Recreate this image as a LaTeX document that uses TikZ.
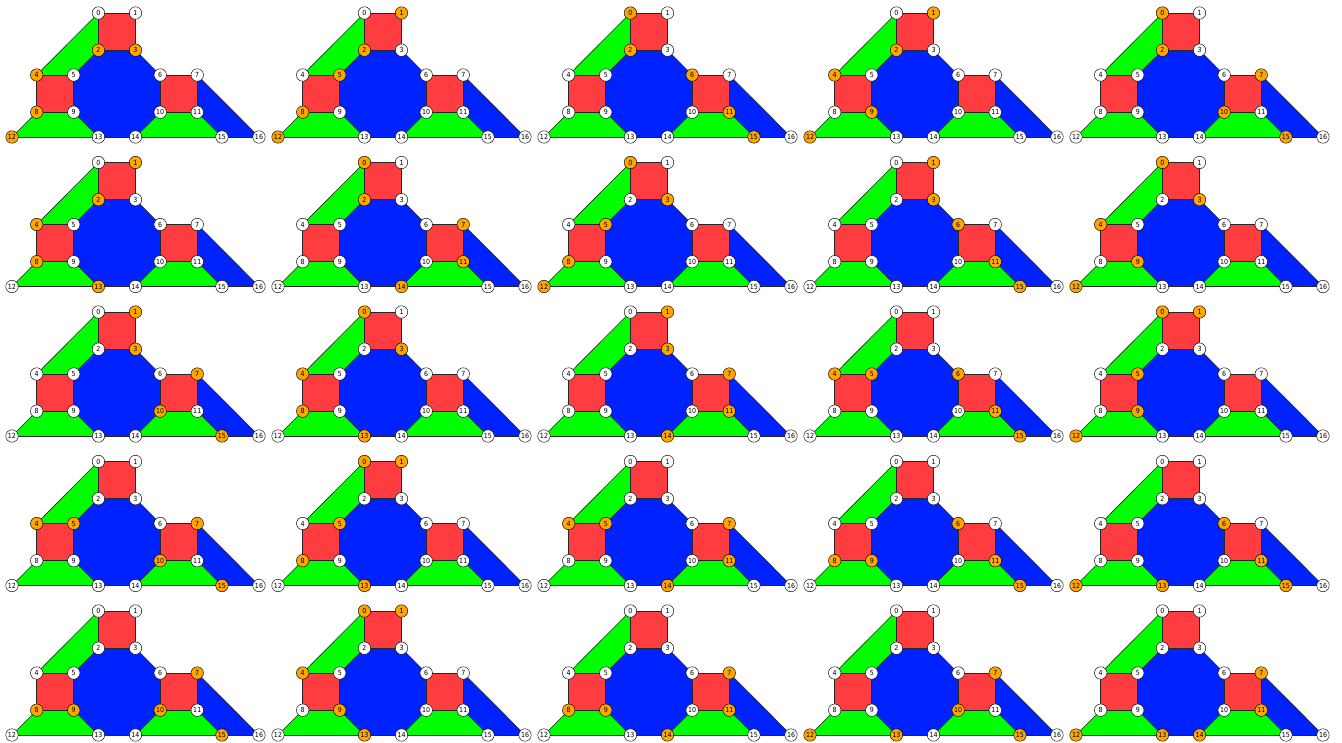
\documentclass[tikz,border=0pt]{standalone}
\usepackage{fontspec}
\setmainfont{DejaVu Sans}
\newfontfamily\condfont{DejaVu Sans Condensed}
\definecolor{facered}{HTML}{FF3C40}
\definecolor{facegreen}{HTML}{00FF00}
\definecolor{faceblue}{HTML}{0022FF}
\definecolor{pick}{HTML}{FFA500}

% one copy of the graph; #1 column, #2 row, #3 highlighted vertices
\newcommand{\drawpanel}[3]{%
  \foreach \v in #3 {\expandafter\gdef\csname hl-#1-#2-\v\endcsname{}}
  \begin{scope}[shift={(#1*266pt+12pt, -#2*149.5pt-13pt)}, x=12.35pt, y=-12.4pt]
    \foreach \v/\px/\py in {0/7/0, 1/10/0, 2/7/3, 3/10/3, 4/2/5, 5/5/5, 6/12/5, 7/15/5,
        8/2/8, 9/5/8, 10/12/8, 11/15/8, 12/0/10, 13/7/10, 14/10/10, 15/17/10, 16/20/10}
      \coordinate (c#1#2-\v) at (\px,\py);
    % faces
    \fill[facered] (c#1#2-0)--(c#1#2-1)--(c#1#2-3)--(c#1#2-2)--cycle;
    \fill[facered] (c#1#2-4)--(c#1#2-5)--(c#1#2-9)--(c#1#2-8)--cycle;
    \fill[facered] (c#1#2-6)--(c#1#2-7)--(c#1#2-11)--(c#1#2-10)--cycle;
    \fill[facegreen] (c#1#2-0)--(c#1#2-2)--(c#1#2-5)--(c#1#2-4)--cycle;
    \fill[facegreen] (c#1#2-8)--(c#1#2-9)--(c#1#2-13)--(c#1#2-12)--cycle;
    \fill[facegreen] (c#1#2-10)--(c#1#2-11)--(c#1#2-15)--(c#1#2-14)--cycle;
    \fill[faceblue] (c#1#2-2)--(c#1#2-3)--(c#1#2-6)--(c#1#2-10)--(c#1#2-14)--(c#1#2-13)--(c#1#2-9)--(c#1#2-5)--cycle;
    \fill[faceblue] (c#1#2-7)--(c#1#2-16)--(c#1#2-15)--(c#1#2-11)--cycle;
    % edges
    \foreach \a/\b in {0/1, 1/3, 3/2, 2/0, 0/4, 4/5, 5/2, 4/8, 5/9, 8/9, 8/12, 9/13,
        12/13, 13/14, 14/10, 10/6, 6/3, 6/7, 7/11, 11/10, 11/15, 14/15, 15/16, 7/16}
      \draw[edge] (c#1#2-\a) -- (c#1#2-\b);
    % vertices
    \foreach \v in {0,...,16} {
      \ifcsname hl-#1-#2-\v\endcsname \def\vfill{pick}\else \def\vfill{white}\fi
      \node[vtx, fill=\vfill] (n#1#2-\v) at (c#1#2-\v) {\v};
    }
  \end{scope}}

\begin{document}
\begin{tikzpicture}[
    edge/.style={draw=black!85, line width=0.6pt},
    vtx/.style={circle, draw=black, line width=0.45pt, minimum size=12.5pt, inner sep=0pt,
      font=\condfont\fontsize{7}{7}\selectfont}
  ]
  \useasboundingbox (0,0) rectangle (1342pt,-743pt);
  \foreach \c/\r/\s in {
      0/0/{2,3,4,8,12}, 1/0/{1,2,5,8,12}, 2/0/{0,2,6,11,15}, 3/0/{1,2,4,9,12}, 4/0/{0,2,7,10,15},
      0/1/{1,2,4,8,13}, 1/1/{0,2,7,11,14}, 2/1/{0,3,5,8,12}, 3/1/{1,3,6,11,15}, 4/1/{0,3,4,9,12},
      0/2/{1,3,7,10,15}, 1/2/{0,3,4,8,13}, 2/2/{1,3,7,11,14}, 3/2/{4,5,6,11,15}, 4/2/{0,1,5,9,12},
      0/3/{4,5,7,10,15}, 1/3/{0,1,5,8,13}, 2/3/{4,5,7,11,14}, 3/3/{6,8,9,11,15}, 4/3/{6,11,12,13,15},
      0/4/{7,8,9,10,15}, 1/4/{0,1,4,9,13}, 2/4/{7,8,9,11,14}, 3/4/{7,10,12,13,15}, 4/4/{7,11,12,13,14}}
    \drawpanel{\c}{\r}{\s};
\end{tikzpicture}
\end{document}
